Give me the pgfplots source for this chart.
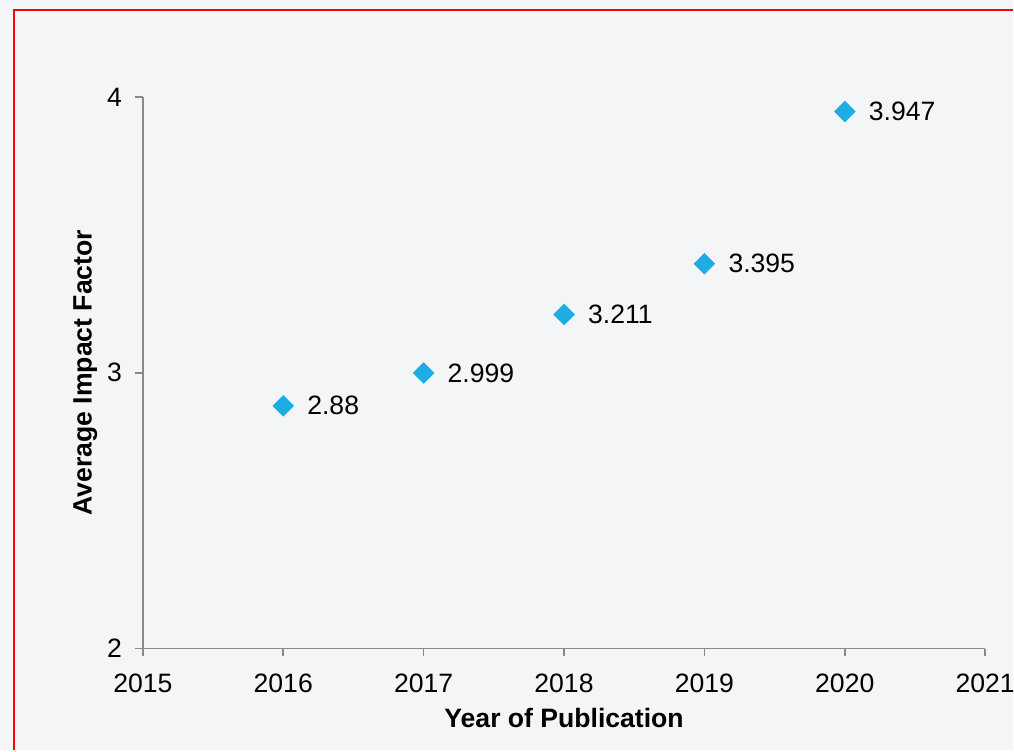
\documentclass[border=0pt]{standalone}
\usepackage{pgfplots}
\pgfplotsset{compat=1.18}
\usepackage{fontspec}
\setmainfont{Liberation Sans}
\definecolor{bgc}{HTML}{F4F5F7}
\definecolor{axc}{HTML}{898989}
\definecolor{mk}{HTML}{1DADE4}
\begin{document}
\begin{tikzpicture}
\fill[bgc] (-71.5pt,-51pt) rectangle (435.5pt,324.5pt);
\draw[red, line width=0.8pt] (-64.5pt,-51pt) -- (-64.5pt,319.5pt) -- (435.5pt,319.5pt);
\useasboundingbox (-71.5pt,-51pt) rectangle (435.5pt,324.5pt);
\begin{axis}[
  at={(0,0)}, anchor=south west,
  scale only axis, width=421.5pt, height=276pt,
  xmin=2015, xmax=2021, ymin=2, ymax=4,
  xtick={2015,...,2021}, ytick={2,3,4},
  axis x line*=bottom, axis y line*=left,
  axis line style={axc, line width=0.8pt},
  tick style={axc, line width=0.8pt},
  tick align=outside, major tick length=4pt,
  x tick label style={/pgf/number format/1000 sep={}},
  /pgf/number format/assume math mode=true,
  ticklabel style={font=\fontsize{13.3}{16}\selectfont, black},
  xticklabel style={yshift=-5pt},
  yticklabel style={xshift=-3pt},
  xlabel={\textbf{Year of Publication}},
  ylabel={\textbf{Average Impact Factor}},
  label style={font=\fontsize{13.3}{16}\selectfont},
  xlabel style={yshift=-1pt},
  ylabel style={yshift=-2pt},
  clip=false,
]
\addplot[only marks, mark=square*, mark size=3.6pt, mark options={rotate=45, fill=mk, draw=mk},
  nodes near coords, point meta=explicit symbolic,
  every node near coord/.style={anchor=west, xshift=8.5pt, font=\fontsize{13.3}{16}\selectfont, black}]
  table[meta=lab] {
x y lab
2016 2.88 2.88
2017 2.999 2.999
2018 3.211 3.211
2019 3.395 3.395
2020 3.947 3.947
};
\end{axis}
\end{tikzpicture}
\end{document}
